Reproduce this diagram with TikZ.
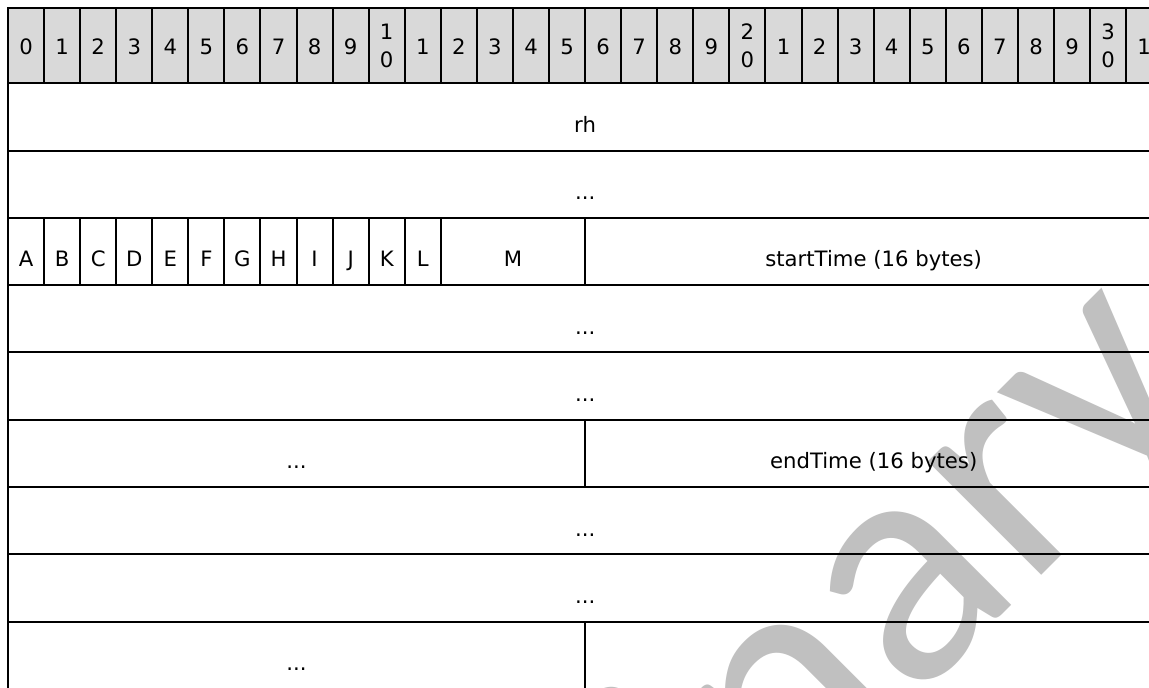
\documentclass[tikz,border=0pt]{standalone}
\usepackage{fontspec}
\setmainfont{DejaVu Sans}
\newfontfamily\wmfont{Carlito}
\usetikzlibrary{positioning}
\definecolor{headgray}{HTML}{D9D9D9}
\definecolor{wmgray}{HTML}{C0C0C0}

\begin{document}
\begin{tikzpicture}[
    x=0.5pt, y=-0.5pt,
    font=\fontsize{10.6}{14.4}\selectfont,
    bitcell/.style={draw, line width=1pt, fill=headgray, inner sep=0pt, outer sep=0pt, minimum width=18.035pt, minimum height=37.65pt, text height=9.35pt, text depth=0pt, anchor=north west},
    twoline/.style={align=center, text height=22.35pt, text depth=0pt},
    field/.style={draw, line width=1pt, inner sep=0pt, outer sep=0pt, minimum width=#1*18.035pt, minimum height=33.65pt, text height=15.4pt, text depth=0pt},
    watermark/.style={text=wmgray, rotate=45, anchor=base east, inner sep=0pt, font=\wmfont\fontsize{168}{168}\selectfont}
]
\useasboundingbox (0,0) rectangle (1149,688);
\fill[white] (0,0) rectangle (1149,688);
\clip (0,0) rectangle (1149,688);

% Watermark
\node[watermark] (wm) at (1218,399) {Preliminary};

% Bit numbers
\foreach \i in {0,...,31}{
    \pgfmathtruncatemacro{\units}{mod(\i,10)}
    \pgfmathtruncatemacro{\tens}{\i/10}
    \ifnum\units=0 \ifnum\i>0
        \node[bitcell, twoline] (b\i) at ({8+36.07*\i},8) {\tens\\0};
    \else
        \node[bitcell] (b\i) at ({8+36.07*\i},8) {\units};
    \fi
    \else
        \node[bitcell] (b\i) at ({8+36.07*\i},8) {\units};
    \fi
}

% Fields
\node[field=32, anchor=north west] (rh) at (b0.south west) {rh};
\node[field=32, below=0pt of rh] (pad1) {...};
\node[field=1, anchor=north west] (A) at (pad1.south west) {A};
\foreach \f [remember=\f as \g (initially A)] in {B,C,D,E,F,G,H,I,J,K,L}
    \node[field=1, right=0pt of \g] (\f) {\f};
\node[field=4, right=0pt of L] (M) {M};
\node[field=16, right=0pt of M] (starttime) {startTime (16 bytes)};
\node[field=32, anchor=north west] (pad2) at (A.south west) {...};
\node[field=32, below=0pt of pad2] (pad3) {...};
\node[field=16, anchor=north west] (pad4) at (pad3.south west) {...};
\node[field=16, right=0pt of pad4] (endtime) {endTime (16 bytes)};
\node[field=32, anchor=north west] (pad5) at (pad4.south west) {...};
\node[field=32, below=0pt of pad5] (pad6) {...};
\node[field=16, anchor=north west] (pad7) at (pad6.south west) {...};
\node[field=16, right=0pt of pad7] (pad8) {};

\end{tikzpicture}
\end{document}
